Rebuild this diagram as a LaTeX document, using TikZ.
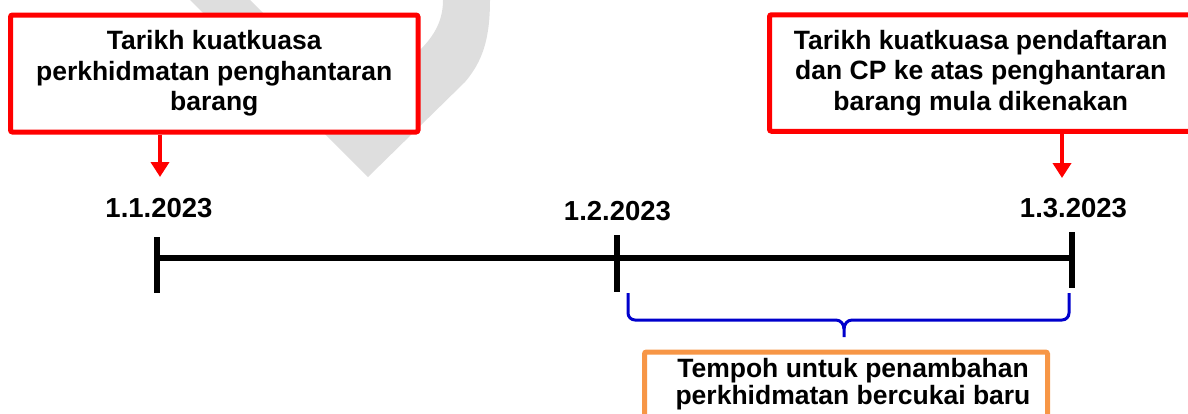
\documentclass[tikz,border=0pt]{standalone}
\usepackage{fontspec}
\setmainfont{Liberation Sans}
\usetikzlibrary{arrows.meta}
\definecolor{alertred}{RGB}{255,0,0}
\definecolor{spanblue}{RGB}{0,0,204}
\definecolor{noteorange}{RGB}{247,150,70}
\definecolor{markgray}{RGB}{222,222,222}
\tikzset{
  callout/.style={draw=alertred, fill=white, line width=5pt, rounded corners=2pt,
    align=center, inner sep=0pt, font=\bfseries\fontsize{26.5}{30.5}\selectfont},
  notebox/.style={draw=noteorange, fill=white, line width=5pt, rounded corners=2pt, inner sep=0pt},
  notetext/.style={align=center, inner sep=0pt, font=\bfseries\fontsize{26.5}{27}\selectfont},
  datelabel/.style={anchor=base, inner sep=0pt, font=\bfseries\fontsize{27.5}{30}\selectfont},
  pointer/.style={draw=alertred, line width=4pt, -{Triangle[width=18pt,length=15pt]}},
  axisline/.style={line width=6pt},
  spanline/.style={draw=spanblue, line width=3pt}
}
\begin{document}
\begin{tikzpicture}[x=1pt,y=-1pt]
\useasboundingbox (0,0) rectangle (1188,413);
\clip (0,0) rectangle (1188,413);

% faint background mark
\fill[markgray] (190,0) -- (368,177) -- (465,82)
  .. controls (482,62) and (490,40) .. (490,0) -- (443,0)
  .. controls (443,20) and (435,35) .. (420,50) -- (360,110) -- (250,0) -- cycle;

% callout boxes
\node[callout, minimum width=407.5pt, minimum height=117pt] (boxL) at (214.25,73.5)
  {Tarikh kuatkuasa\\perkhidmatan penghantaran\\barang};
\node[callout, minimum width=422.5pt, minimum height=116.5pt] (boxR) at (980.75,73)
  {Tarikh kuatkuasa pendaftaran\\dan CP ke atas penghantaran\\barang mula dikenakan};

% timeline
\coordinate (t1) at (157,258);
\coordinate (t2) at (617,258);
\coordinate (t3) at (1072,258);
\draw[axisline] (t1) -- (t3);
\draw[axisline] (157,237) -- (157,293);
\draw[axisline] (617,235) -- (617,292);
\draw[axisline] (1072,232) -- (1072,288);

% dates
\node[datelabel] (d1) at (159,217) {1.1.2023};
\node[datelabel] (d2) at (617.5,220) {1.2.2023};
\node[datelabel] (d3) at (1073.5,217) {1.3.2023};

% pointers from callouts to dates
\coordinate (pL) at (160,177);
\coordinate (pR) at (1062,178);
\draw[pointer] (boxL.south -| pL) -- (pL);
\draw[pointer] (boxR.south -| pR) -- (pR);

% bracket over the second period
\draw[spanline] (628,293) -- (628,313) to[out=-90,in=180] (635,320) -- (836,320)
  to[out=0,in=90] (844,329) -- (844,337);
\draw[spanline] (844,329) to[out=90,in=180] (852,320) -- (1062,320)
  to[out=0,in=-90] (1069,313) -- (1069,293);

% note box
\node[notebox, minimum width=403pt, minimum height=120pt, anchor=north] (noteBox) at (846,349.5) {};
\node[notetext] (noteText) at (853,384) {Tempoh untuk penambahan\\perkhidmatan bercukai baru};
\end{tikzpicture}
\end{document}
